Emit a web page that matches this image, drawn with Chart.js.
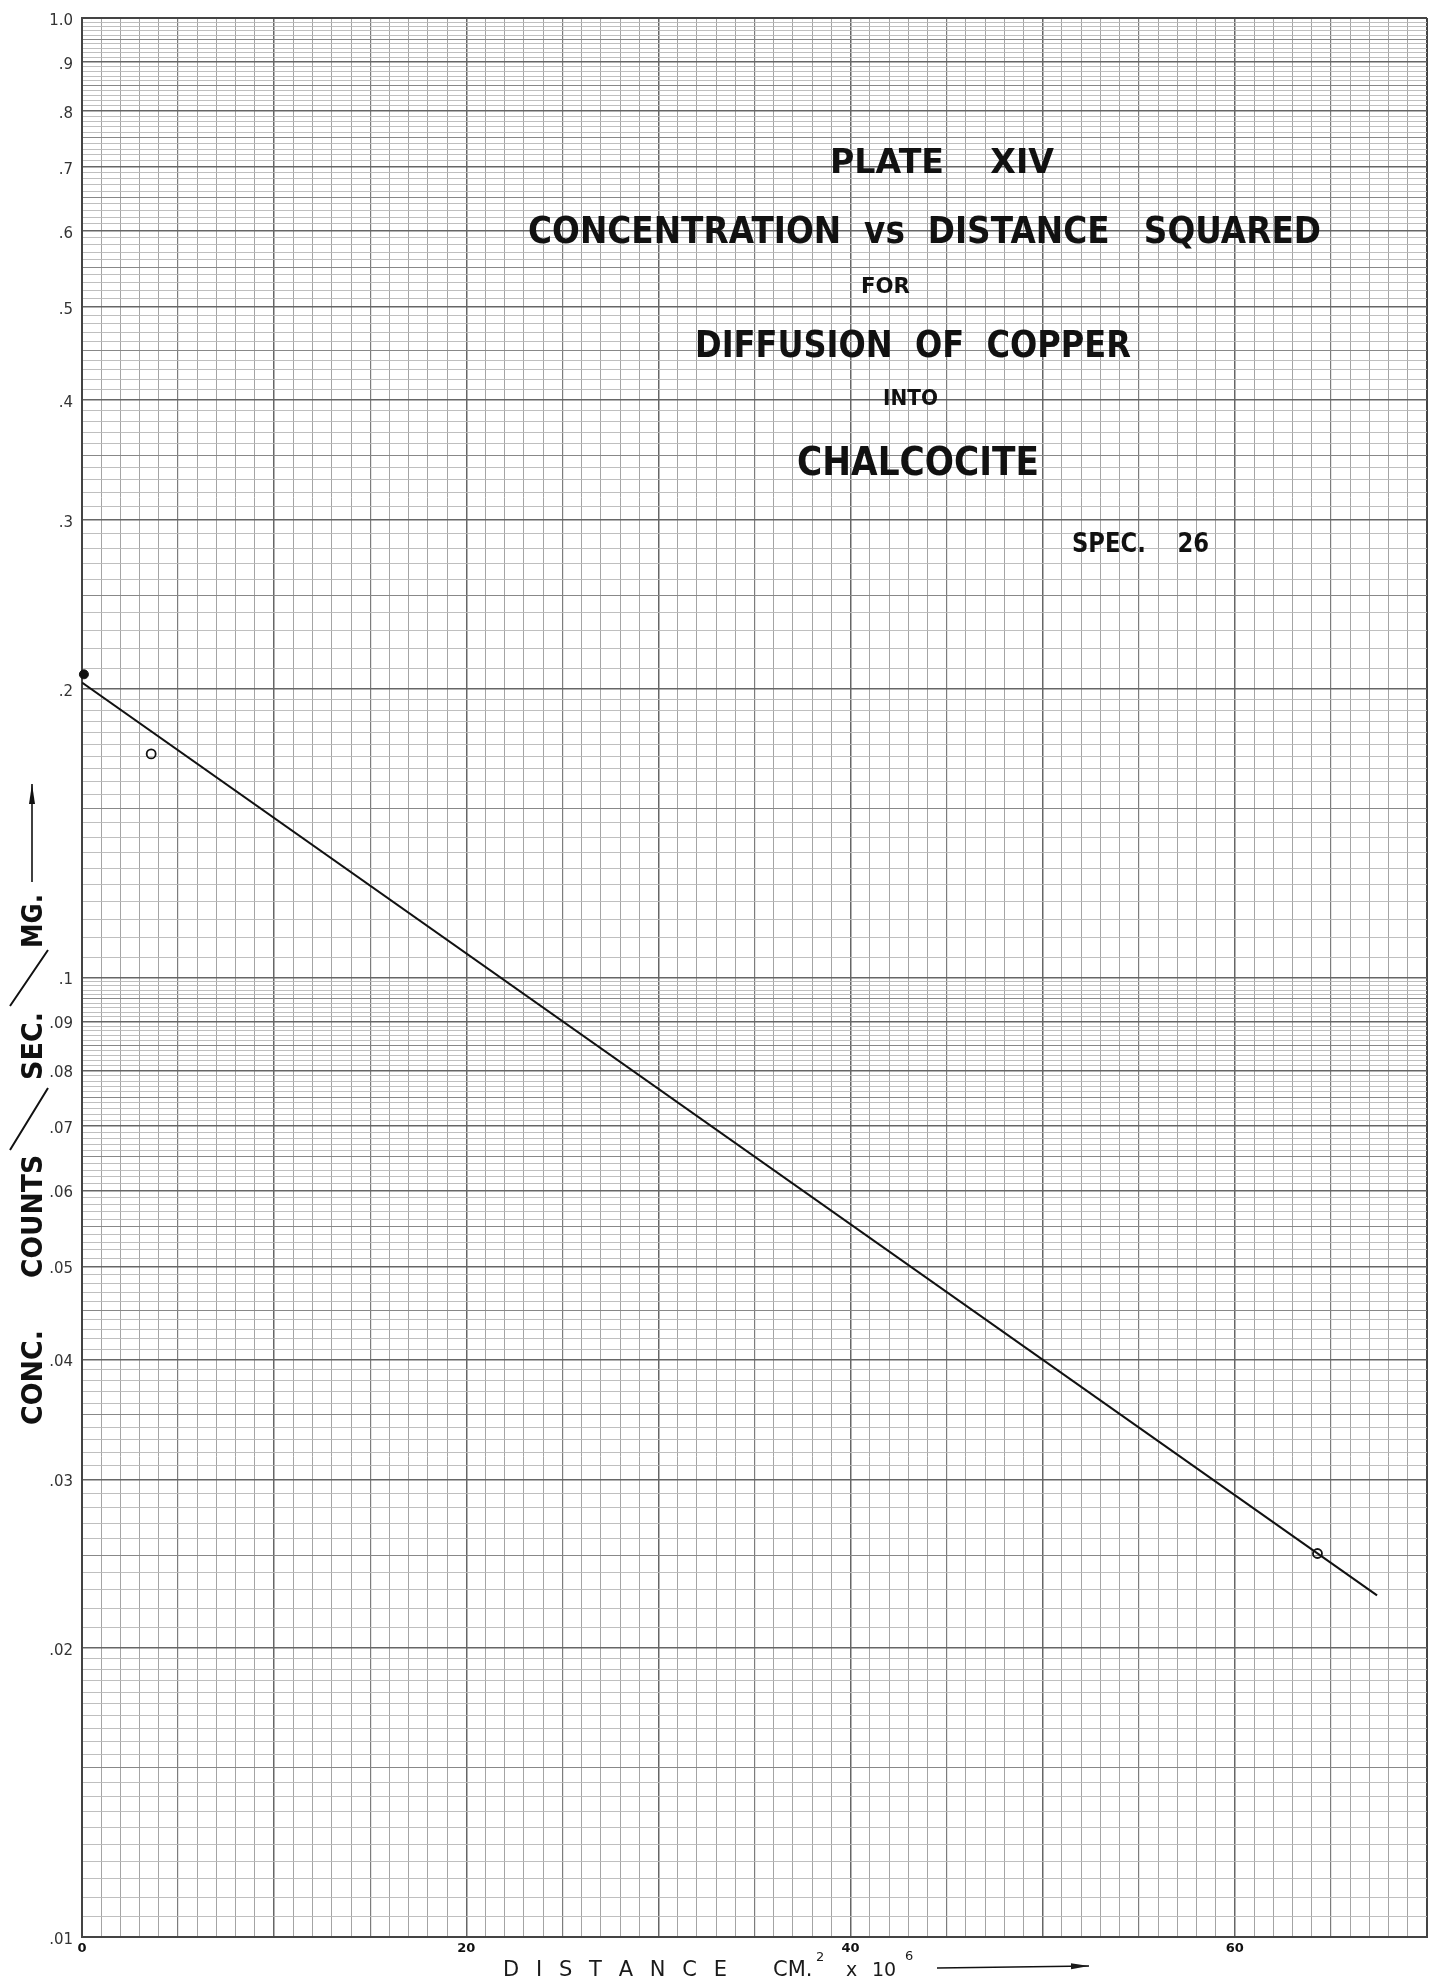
<!DOCTYPE html>
<html>
<head>
<meta charset="utf-8">
<title>Plate XIV - Concentration vs Distance Squared</title>
<script src="https://cdn.jsdelivr.net/npm/chart.js@4.4.1/dist/chart.umd.min.js"></script>
<style>
    html, body { margin: 0; padding: 0; background: #fff; }
    #wrap { width: 1439px; height: 1986px; position: relative; }
</style>
</head>
<body>
<div id="wrap"><canvas id="plate"></canvas></div>
<script>
// Drawn straight line (x = distance cm^2 x 10^6, y = counts/sec/mg)
const lineX = [0, 67.4];
const lineY = [0.203, 0.0227];

// Plotted specimen points
const solidX = [0.1];
const solidY = [0.207];
const openX = [3.6, 64.3];
const openY = [0.171, 0.0251];

// Axis labels as printed on the paper
const xLabels = [0, 20, 40, 60];
const yLabelValues = [0.01, 0.02, 0.03, 0.04, 0.05, 0.06, 0.07, 0.08, 0.09,
                      0.1, 0.2, 0.3, 0.4, 0.5, 0.6, 0.7, 0.8, 0.9, 1.0];
const yLabelTexts = ['.01', '.02', '.03', '.04', '.05', '.06', '.07', '.08', '.09',
                     '.1', '.2', '.3', '.4', '.5', '.6', '.7', '.8', '.9', '1.0'];

// Two-cycle log paper rulings
function logRulings() {
    const out = [];
    [0.01, 0.1].forEach(decade => {
        for (let m = 100; m < 1000; m += (m < 200 ? 5 : 10)) {
            out.push({ value: +(m / 100 * decade).toPrecision(8), m: m });
        }
    });
    out.push({ value: 1, m: 100 });
    return out;
}
const yRulings = logRulings();

function rulingKind(m) {
    if (m % 100 === 0) return 'major';
    if (m % 50 === 0) return 'medium';
    return 'minor';
}

function fitText(ctx, text, left, right, baseline, font) {
    ctx.font = font;
    const w = ctx.measureText(text).width;
    ctx.save();
    ctx.translate(left, baseline);
    ctx.scale((right - left) / w, 1);
    ctx.fillText(text, 0, 0);
    ctx.restore();
}

function spacedText(ctx, text, left, right, baseline, font) {
    ctx.font = font;
    const chars = text.split('');
    const total = chars.reduce((s, c) => s + ctx.measureText(c).width, 0);
    const gap = (right - left - total) / (chars.length - 1);
    let x = left;
    chars.forEach(c => {
        ctx.fillText(c, x, baseline);
        x += ctx.measureText(c).width + gap;
    });
}

function arrow(ctx, x1, y1, x2, y2, head) {
    const a = Math.atan2(y2 - y1, x2 - x1);
    ctx.beginPath();
    ctx.moveTo(x1, y1);
    ctx.lineTo(x2, y2);
    ctx.stroke();
    ctx.beginPath();
    ctx.moveTo(x2, y2);
    ctx.lineTo(x2 - head * Math.cos(a) + 3 * Math.sin(a), y2 - head * Math.sin(a) - 3 * Math.cos(a));
    ctx.lineTo(x2 - head * Math.cos(a) - 3 * Math.sin(a), y2 - head * Math.sin(a) + 3 * Math.cos(a));
    ctx.closePath();
    ctx.fill();
}

// Lettering on the plate
const plateLettering = {
    id: 'plateLettering',
    afterDraw(chart) {
        const ctx = chart.ctx;
        ctx.save();
        ctx.fillStyle = '#111';
        ctx.strokeStyle = '#111';
        ctx.textAlign = 'left';
        ctx.textBaseline = 'alphabetic';

        const big = 'bold 37px "DejaVu Sans"';
        const small = 'bold 22px "DejaVu Sans"';
        fitText(ctx, 'PLATE    XIV', 830, 1054, 173, 'bold 34px "DejaVu Sans"');
        fitText(ctx, 'CONCENTRATION  vs  DISTANCE   SQUARED', 528, 1321, 243, big);
        fitText(ctx, 'FOR', 861, 910, 293, small);
        fitText(ctx, 'DIFFUSION  OF  COPPER', 695, 1131, 357, big);
        fitText(ctx, 'INTO', 883, 938, 405, small);
        fitText(ctx, 'CHALCOCITE', 797, 1039, 475, 'bold 39px "DejaVu Sans"');
        fitText(ctx, 'SPEC.    26', 1072, 1209, 552, 'bold 26px "DejaVu Sans"');

        // x axis caption
        ctx.fillStyle = '#1a1a1a';
        spacedText(ctx, 'DISTANCE', 503, 727, 1976, '21px "DejaVu Sans"');
        ctx.font = '21px "DejaVu Sans"';
        ctx.fillText('CM.', 773, 1976);
        ctx.font = '13px "DejaVu Sans"';
        ctx.fillText('2', 816, 1961);
        ctx.font = '19px "DejaVu Sans"';
        ctx.fillText('x', 846, 1976);
        ctx.fillText('10', 872, 1976);
        ctx.font = '13px "DejaVu Sans"';
        ctx.fillText('6', 905, 1960);
        ctx.lineWidth = 1.6;
        arrow(ctx, 937, 1968, 1089, 1966, 18);

        // y axis caption, reading upward
        ctx.fillStyle = '#111';
        ctx.save();
        ctx.translate(42, 0);
        ctx.rotate(-Math.PI / 2);
        const yFont = 'bold 28px "DejaVu Sans"';
        fitText(ctx, 'CONC.', -1425, -1330, 0, yFont);
        fitText(ctx, 'COUNTS', -1278, -1155, 0, yFont);
        fitText(ctx, 'SEC.', -1080, -1012, 0, yFont);
        fitText(ctx, 'MG.', -948, -894, 0, yFont);
        ctx.restore();
        ctx.lineWidth = 2;
        ctx.beginPath();
        ctx.moveTo(10, 1150); ctx.lineTo(48, 1088);
        ctx.moveTo(10, 1006); ctx.lineTo(48, 950);
        ctx.stroke();
        ctx.lineWidth = 1.6;
        arrow(ctx, 32, 882, 32, 784, 20);
        ctx.restore();
    }
};

const toPoints = (xs, ys) => xs.map((x, i) => ({ x: x, y: ys[i] }));

new Chart(document.getElementById('plate'), {
    type: 'scatter',
    data: {
        datasets: [
            {
                data: toPoints(lineX, lineY),
                showLine: true,
                borderColor: '#111',
                borderWidth: 2,
                pointRadius: 0
            },
            {
                data: toPoints(solidX, solidY),
                pointRadius: 4.5,
                backgroundColor: '#111',
                borderColor: '#111',
                clip: false
            },
            {
                data: toPoints(openX, openY),
                pointRadius: 4.5,
                borderWidth: 1.8,
                backgroundColor: 'rgba(0,0,0,0)',
                borderColor: '#111',
                clip: false
            }
        ]
    },
    options: {
        responsive: true,
        maintainAspectRatio: false,
        animation: false,
        layout: { padding: { top: 15, right: 12, left: 0, bottom: 0 } },
        plugins: {
            legend: { display: false },
            tooltip: { enabled: false }
        },
        scales: {
            x: {
                type: 'linear',
                min: 0,
                max: 70,
                afterFit: scale => { scale.height = 49; },
                border: { display: true, color: '#444', width: 2 },
                grid: {
                    drawTicks: false,
                    color: ctx => {
                        const v = ctx.tick.value;
                        if (v === 0 || v === 70) return '#444';
                        if (v % 10 === 0) return '#666';
                        if (v % 5 === 0) return '#7c7c7c';
                        return '#a4a4a4';
                    },
                    lineWidth: ctx => {
                        const v = ctx.tick.value;
                        if (v === 0 || v === 70) return 2;
                        if (v % 10 === 0) return 1.5;
                        if (v % 5 === 0) return 1.2;
                        return 1;
                    }
                },
                ticks: {
                    stepSize: 1,
                    autoSkip: false,
                    maxRotation: 0,
                    padding: 4,
                    color: '#111',
                    font: { family: 'DejaVu Sans', size: 13, weight: 'bold' },
                    callback: v => xLabels.includes(v) ? String(v) : ''
                }
            },
            y: {
                type: 'logarithmic',
                min: 0.01,
                max: 1,
                afterFit: scale => { scale.width = 82; },
                afterBuildTicks: scale => {
                    scale.ticks = yRulings.map(r => ({ value: r.value, m: r.m }));
                },
                border: { display: true, color: '#444', width: 2 },
                grid: {
                    drawTicks: false,
                    color: ctx => {
                        const t = ctx.tick;
                        if (t.value === 1 || t.value === 0.01) return '#444';
                        const k = rulingKind(t.m);
                        return k === 'major' ? '#666' : k === 'medium' ? '#888' : '#b8b8b8';
                    },
                    lineWidth: ctx => {
                        const t = ctx.tick;
                        if (t.value === 1 || t.value === 0.01) return 2;
                        const k = rulingKind(t.m);
                        return k === 'major' ? 1.4 : k === 'medium' ? 1.1 : 0.9;
                    }
                },
                ticks: {
                    autoSkip: false,
                    padding: 9,
                    labelOffset: 3,
                    color: '#333',
                    font: { family: 'DejaVu Sans', size: 15 },
                    callback: v => {
                        const i = yLabelValues.findIndex(l => Math.abs(l - v) < 1e-9);
                        return i >= 0 ? yLabelTexts[i] : '';
                    }
                }
            }
        }
    },
    plugins: [plateLettering]
});
</script>
</body>
</html>
